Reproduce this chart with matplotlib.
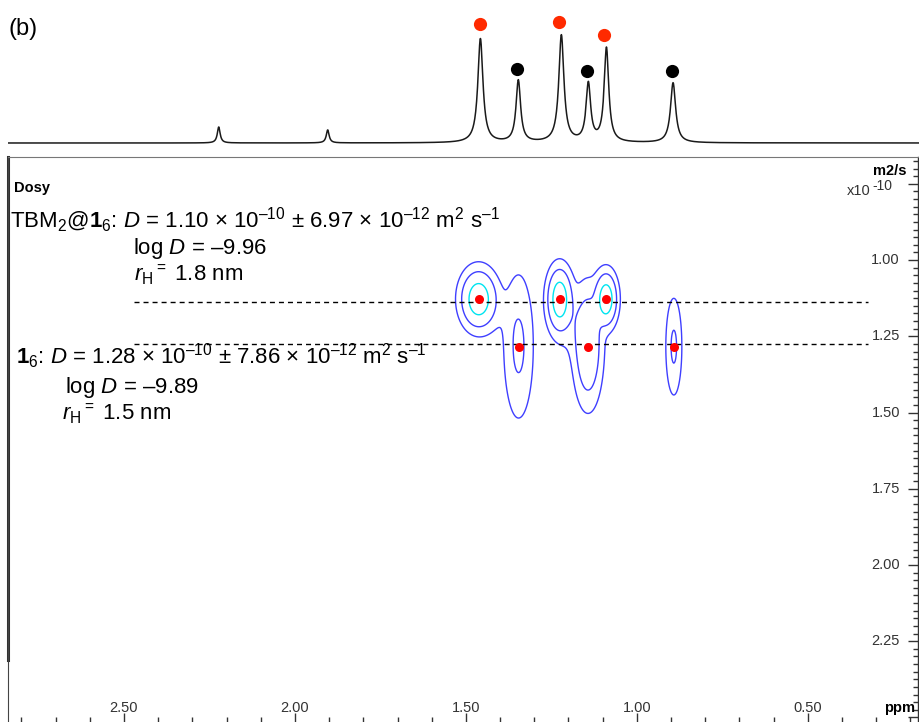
import numpy as np
import matplotlib
matplotlib.use("Agg")
from matplotlib import pyplot as plt
from matplotlib.ticker import MultipleLocator, FixedLocator

plt.rcParams["font.family"] = ["Liberation Sans", "DejaVu Sans"]
plt.rcParams["mathtext.fontset"] = "custom"
plt.rcParams["mathtext.rm"] = "Liberation Sans"
plt.rcParams["mathtext.it"] = "Liberation Sans:italic"
plt.rcParams["mathtext.bf"] = "Liberation Sans:bold"

# 1D proton projection on top
proj_ppm = [2.225, 1.906, 1.459, 1.348, 1.222, 1.143, 1.090, 0.895]
proj_height = [16, 13, 104, 62, 107, 58, 94, 60]
proj_hwhm = [0.005, 0.005, 0.009, 0.008, 0.009, 0.008, 0.008, 0.009]

# assignment dots above the trace
host_ppm = [1.459, 1.228, 1.096]      # red
host_dot = [119, 121, 108]
cage_ppm = [1.351, 1.146, 0.897]      # black
cage_dot = [74, 72, 72]

# DOSY cross peaks: shift (ppm), D (x1e-10 m2/s), amplitude, widths
dosy_ppm = [1.463, 1.226, 1.090, 1.346, 1.143, 0.892]
dosy_D = [1.128, 1.128, 1.128, 1.284, 1.284, 1.284]
dosy_amp = [1.0, 1.0, 1.0, 0.247, 0.55, 0.24]
dosy_wppm = [0.0275, 0.019, 0.017, 0.024, 0.022, 0.0132]
dosy_wD = [0.050, 0.054, 0.046, 0.131, 0.100, 0.0895]
# weak smeared intensity between overlapping cross peaks
smear_ppm = [1.18, 1.41]
smear_D = [1.21, 1.17]
smear_amp = [0.085, 0.03]
smear_wppm = [0.04, 0.035]
smear_wD = [0.07, 0.06]

levels = [0.05, 0.2, 0.6]
level_colors = ["#3f3fff", "#3f3fff", "#00e4f0"]

D_lines = [1.1377, 1.2754]
line_from, line_to = 2.47, 0.325

x_major = [2.5, 2.0, 1.5, 1.0, 0.5]
y_major = [0.75, 1.00, 1.25, 1.50, 1.75, 2.00, 2.25, 2.50]
y_labels = ["", "1.00", "1.25", "1.50", "1.75", "2.00", "2.25", ""]

W, H = 919, 722
fig = plt.figure(figsize=(W / 100, H / 100), dpi=100)
xlim = (2.839, 0.178)

# top trace
ax1 = fig.add_axes([8 / W, (H - 157) / H, 911 / W, 157 / H])
x = np.linspace(0.17, 2.85, 4000)
spec = np.zeros_like(x)
for p, h, g in zip(proj_ppm, proj_height, proj_hwhm):
    spec += h * g**2 / ((x - p) ** 2 + g**2)
ax1.plot(x, spec, color="#1a1a1a", lw=1.1)
ax1.plot(host_ppm, host_dot, "o", color="#ff2a00", ms=9.5, mec="none")
ax1.plot(cage_ppm, cage_dot, "o", color="black", ms=9.5, mec="none")
ax1.set_xlim(2.839 + 1 / 342, 0.178 - 1 / 342)
ax1.set_ylim(-14, 143)
ax1.axis("off")

# DOSY panel
ax2 = fig.add_axes([8 / W, 0, 910 / W, (H - 157) / H])
gx = np.linspace(0.7, 1.7, 500)
gy = np.linspace(0.85, 1.75, 500)
GX, GY = np.meshgrid(gx, gy)
Z = np.zeros_like(GX)
for p, d, a, sx, sd in zip(dosy_ppm + smear_ppm, dosy_D + smear_D,
                           dosy_amp + smear_amp, dosy_wppm + smear_wppm,
                           dosy_wD + smear_wD):
    Z += a * np.exp(-0.5 * ((GX - p) / sx) ** 2 - 0.5 * ((GY - d) / sd) ** 2)
ax2.contour(GX, GY, Z, levels=levels, colors=level_colors, linewidths=1.0)
ax2.plot(dosy_ppm, dosy_D, "o", color="#ff0000", ms=6.5, mec="none", zorder=5)
for d in D_lines:
    ax2.hlines(d, line_from, line_to, colors="black", lw=1.0,
               linestyles=(0, (3.6, 2.9)), zorder=4)

ax2.set_xlim(*xlim)
ax2.set_ylim(2.515, 0.662)

ax2.xaxis.set_major_locator(FixedLocator(x_major))
ax2.xaxis.set_minor_locator(MultipleLocator(0.1))
ax2.set_xticklabels(["%.2f" % v for v in x_major])
ax2.yaxis.set_major_locator(FixedLocator(y_major))
ax2.yaxis.set_minor_locator(MultipleLocator(0.025))
ax2.set_yticklabels(y_labels)
ax2.yaxis.tick_right()

ax2.tick_params(axis="x", which="both", direction="in", bottom=True, top=False,
                colors="#333333", width=1.0, pad=-7.4, labelsize=10.5)
ax2.tick_params(axis="x", which="major", length=6.5)
ax2.tick_params(axis="x", which="minor", length=3.6)
ax2.tick_params(axis="y", which="both", direction="in", right=True, left=False,
                labelright=True, labelleft=False, colors="#333333", width=1.0,
                pad=-13, labelsize=10.5)
ax2.tick_params(axis="y", which="major", length=7)
ax2.tick_params(axis="y", which="minor", length=3.6)
for lbl in ax2.get_xticklabels():
    lbl.set_va("baseline")
for lbl in ax2.get_yticklabels():
    lbl.set_ha("right")
    lbl.set_va("center")

ax2.spines["bottom"].set_visible(False)
ax2.spines["top"].set_color("#777777")
ax2.spines["top"].set_linewidth(0.8)
ax2.spines["right"].set_color("#333333")
ax2.spines["right"].set_linewidth(1.0)
ax2.spines["left"].set_color("#444444")
ax2.spines["left"].set_linewidth(0.8)
ax2.plot([0, 0], [(H - 660) / (H - 157), 1], transform=ax2.transAxes,
         color="#333333", lw=2.2, clip_on=False)


def ftext(px, py, s, **kw):
    fig.text(px / W, 1 - py / H, s, va="baseline", **kw)


ftext(8, 35, "(b)", fontsize=17)
ftext(14, 192, "Dosy", fontsize=10.5, fontweight="bold")
ftext(906, 175, "m2/s", fontsize=10.5, fontweight="bold", ha="right")
ftext(871, 195, "x10", fontsize=10.5, color="#333333", ha="right")
ftext(872, 190, "-10", fontsize=10, color="#333333", ha="left")
ftext(915, 712, "ppm", fontsize=10.5, fontweight="bold", ha="right")

fs = 16
ftext(10, 228, "TBM$_2$@$\\mathbf{1}_6$: $D$ = 1.10 × 10$^{–10}$ ± 6.97 × 10$^{–12}$ m$^2$ s$^{–1}$", fontsize=fs)
ftext(133, 254, "log $D$ = –9.96", fontsize=fs)
ftext(134, 281, "$r_{\\rm H}$$^{=}$ 1.8 nm", fontsize=fs)
ftext(16, 364, "$\\mathbf{1}_6$: $D$ = 1.28 × 10$^{–10}$ ± 7.86 × 10$^{–12}$ m$^2$ s$^{–1}$", fontsize=fs)
ftext(65, 393, "log $D$ = –9.89", fontsize=fs)
ftext(62, 420, "$r_{\\rm H}$$^{=}$ 1.5 nm", fontsize=fs)

fig.savefig("out.png", dpi=100)
